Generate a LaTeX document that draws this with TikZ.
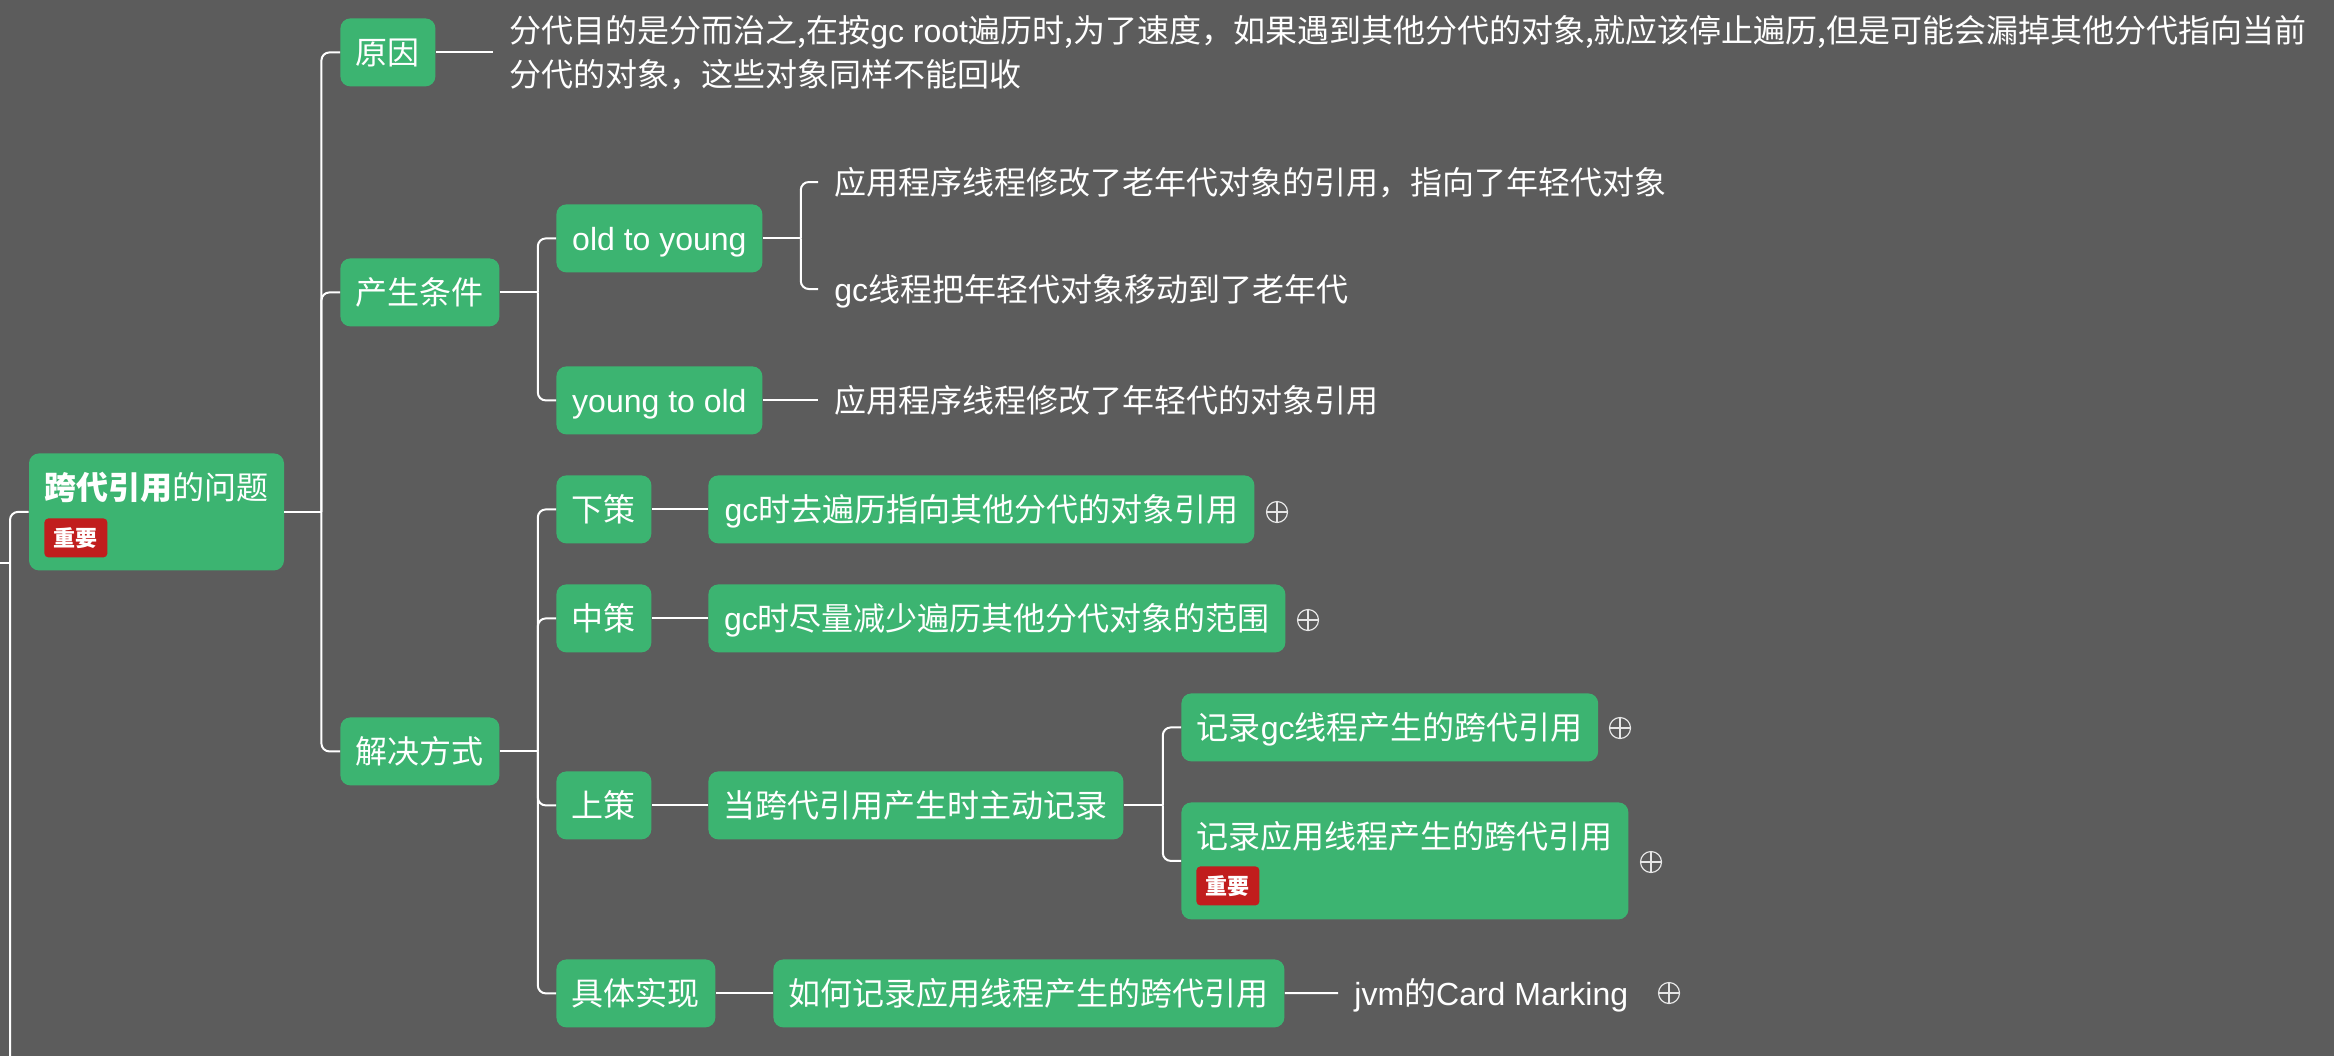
\documentclass[tikz,border=0pt]{standalone}
\usepackage{fontspec}
\setmainfont{Noto Sans CJK SC}
\newfontfamily\latinfont{Liberation Sans}
\newcommand\latn[1]{{\latinfont #1}}
\usepackage{tikz}

\definecolor{canvas}{RGB}{92,92,92}
\definecolor{mindgreen}{RGB}{60,180,113}
\definecolor{tagred}{RGB}{193,29,29}
\definecolor{foldgray}{RGB}{230,230,230}

\tikzset{
  topic/.style={fill=mindgreen, text=white, rounded corners=5pt, inner xsep=7.75pt, inner ysep=0pt,
    text height=23pt, text depth=11pt, anchor=north west},
  tagged/.style={topic, text depth=35.5pt},
  leaf/.style={text=white, inner xsep=8pt, inner ysep=0pt, text height=23pt, text depth=11pt, anchor=west},
  badge/.style={fill=tagred, text=white, rounded corners=2pt, font=\fontsize{11pt}{13pt}\selectfont\bfseries,
    minimum width=31.5pt, inner xsep=0pt, inner ysep=0pt, text height=13.95pt, text depth=5.55pt, anchor=north west},
  fold/.style={circle, draw=foldgray, line width=0.6pt, minimum size=10.5pt, inner sep=0pt,
    path picture={\draw[foldgray, line width=0.6pt] (path picture bounding box.north) -- (path picture bounding box.south)
      (path picture bounding box.west) -- (path picture bounding box.east);}},
  link/.style={draw=white, line width=1pt, rounded corners=4pt}
}

\begin{document}
\begin{tikzpicture}[x=0.5pt, y=-0.5pt, font=\fontsize{16pt}{22pt}\selectfont]
        \fill[canvas] (0,0) rectangle (2334,1056);
        \useasboundingbox (0,0) rectangle (2334,1056);
        \node[tagged] (main) at (28.6,453) {\textbf{跨代引用}的问题};
        \node[badge] (mainbadge) at (44,518) {重要};
        \node[topic] (reason) at (340,18) {原因};
        \node[topic] (cond) at (340,258) {产生条件};
        \node[topic] (solve) at (340,717) {解决方式};
        \node[text=white, anchor=north west, inner xsep=8pt, inner ysep=0pt, align=left] (why) at (493,15)
          {分代目的是分而治之,在按\latn{gc root}遍历时,为了速度，如果遇到其他分代的对象,就应该停止遍历,但是可能会漏掉其他分代指向当前\\分代的对象，这些对象同样不能回收};
        \node[topic, minimum width=103pt] (o2y) at (556,204) {\latn{old to young}};
        \node[topic, minimum width=103pt] (y2o) at (556,366) {\latn{young to old}};
        \node[leaf] (o2ya) at (818,182) {应用程序线程修改了老年代对象的引用，指向了年轻代对象};
        \node[leaf] (o2yb) at (818,289) {\latn{gc}线程把年轻代对象移动到了老年代};
        \node[leaf] (y2oa) at (818,400) {应用程序线程修改了年轻代的对象引用};
        \node[topic] (low) at (556,475) {下策};
        \node[topic] (mid) at (556,584) {中策};
        \node[topic] (high) at (556,771) {上策};
        \node[topic] (impl) at (556,959) {具体实现};
        \node[topic, minimum width=273pt] (lowa) at (708,475) {\latn{gc}时去遍历指向其他分代的对象引用};
        \node[topic, minimum width=288.5pt] (mida) at (708,584) {\latn{gc}时尽量减少遍历其他分代对象的范围};
        \node[topic] (higha) at (708,771) {当跨代引用产生时主动记录};
        \node[topic, minimum width=208pt] (rec1) at (1181,693) {记录\latn{gc}线程产生的跨代引用};
        \node[tagged] (rec2) at (1181,802) {记录应用线程产生的跨代引用};
        \node[badge] (recbadge) at (1196,866) {重要};
        \node[topic] (impla) at (773,959) {如何记录应用线程产生的跨代引用};
        \node[leaf] (jvm) at (1338,993) {\latn{jvm}的\latn{Card Marking}};
        \node[fold] (lowfold) at (1277,512) {};
        \node[fold] (midfold) at (1308,620) {};
        \node[fold] (rec1fold) at (1620,728) {};
        \node[fold] (rec2fold) at (1651,862) {};
        \node[fold] (jvmfold) at (1669,993) {};
        \coordinate (inlet) at (0,563);
        \coordinate (lbus) at (10,563);
        \coordinate (lbot) at (10,1062);
        \coordinate (mbus) at ([xshift=18.5pt]main.east);
        \coordinate (cbus) at ([xshift=19pt]cond.east);
        \coordinate (obus) at ([xshift=19pt]o2y.east);
        \coordinate (sbus) at ([xshift=19pt]solve.east);
        \coordinate (hbus) at ([xshift=19.5pt]higha.east);
        \draw[link] (inlet) -- (lbus);
        \draw[link] (lbot) |- (main.west);
        \draw[link] (main.east) -- (mbus);
        \draw[link] (mbus) |- (reason.west);
        \draw[link] (mbus) |- (cond.west);
        \draw[link] (mbus) |- (solve.west);
        \draw[link] (reason.east) -- (reason.east -| why.west);
        \draw[link] (cond.east) -- (cbus);
        \draw[link] (cbus) |- (o2y.west);
        \draw[link] (cbus) |- (y2o.west);
        \draw[link] (o2y.east) -- (obus);
        \draw[link] (obus) |- (o2ya.west);
        \draw[link] (obus) |- (o2yb.west);
        \draw[link] (y2o.east) -- (y2o.east -| y2oa.west);
        \draw[link] (solve.east) -- (sbus);
        \draw[link] (sbus) |- (low.west);
        \draw[link] (sbus) |- (mid.west);
        \draw[link] (sbus) |- (high.west);
        \draw[link] (sbus) |- (impl.west);
        \draw[link] (low) -- (lowa);
        \draw[link] (mid) -- (mida);
        \draw[link] (high) -- (higha);
        \draw[link] (impl) -- (impla);
        \draw[link] (impla) -- (jvm);
        \draw[link] (higha.east) -- (hbus);
        \draw[link] (hbus) |- (rec1.west);
        \draw[link] (hbus) |- (rec2.west);
    \end{tikzpicture}
\end{document}
